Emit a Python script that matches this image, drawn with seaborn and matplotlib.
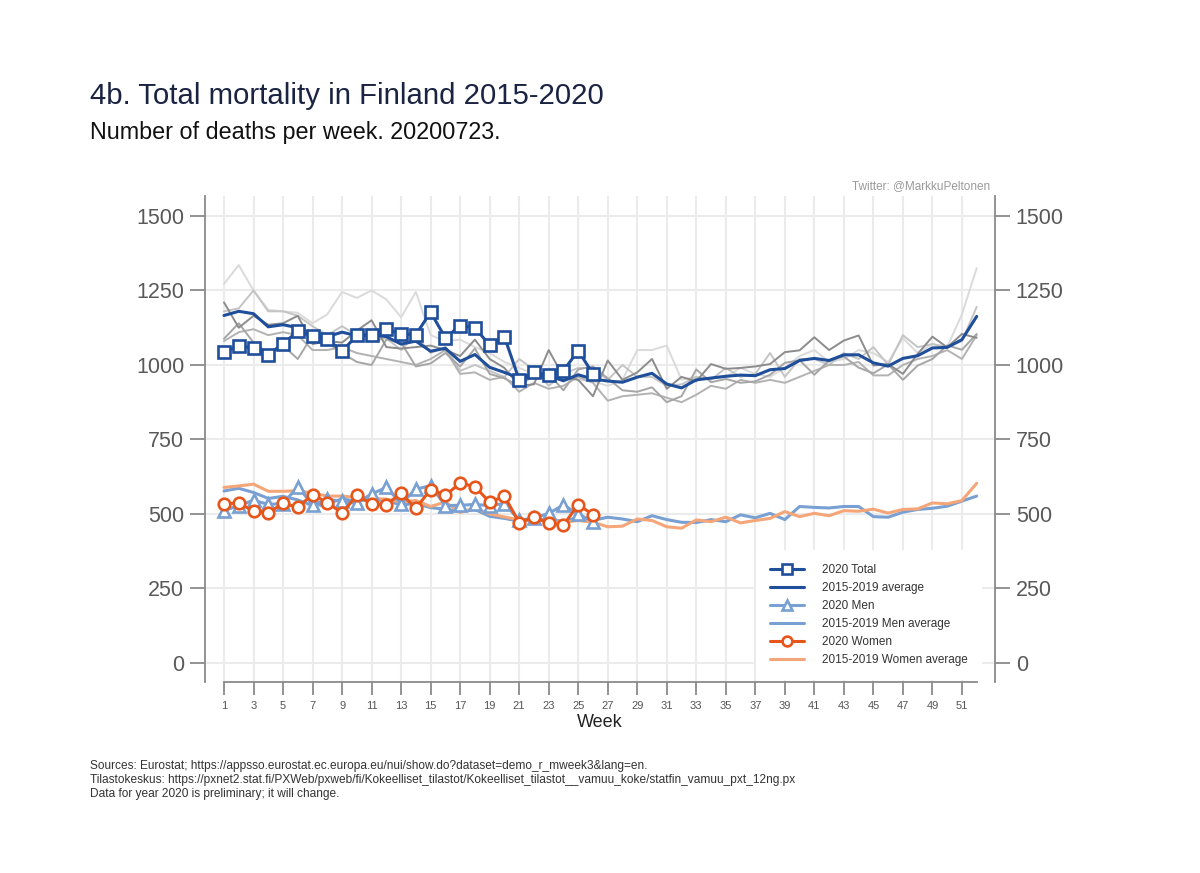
import matplotlib
matplotlib.use("Agg")
import matplotlib.pyplot as plt
import seaborn as sns

weeks = list(range(1, 53))
weeks_2020 = list(range(1, 27))

total_2020 = [1043, 1065, 1056, 1035, 1071, 1113, 1096, 1087, 1046, 1099, 1101, 1120, 1104,
              1102, 1177, 1091, 1132, 1124, 1067, 1095, 950, 975, 966, 981, 1048, 970]
men_2020 = [511, 528, 546, 532, 535, 591, 531, 549, 543, 537, 567, 589, 535,
            583, 595, 528, 529, 532, 528, 535, 479, 486, 502, 530, 500, 474]
women_2020 = [534, 537, 509, 503, 536, 522, 565, 538, 503, 562, 534, 531, 569,
              519, 582, 563, 603, 592, 539, 560, 471, 489, 469, 463, 531, 498]

avg_total = [1166, 1180, 1172, 1128, 1135, 1125, 1098, 1095, 1110, 1098, 1102, 1095, 1070,
             1080, 1046, 1056, 1012, 1035, 992, 975, 956, 959, 964, 947, 967, 953,
             946, 942, 959, 972, 936, 923, 950, 956, 962, 966, 964, 984, 988, 1015,
             1022, 1015, 1034, 1034, 1007, 996, 1022, 1031, 1057, 1059, 1085, 1163]
avg_men = [577, 586, 572, 552, 559, 547, 528, 535, 550, 543, 550, 545, 530, 535, 521, 516,
           507, 515, 492, 485, 476, 481, 482, 475, 489, 478, 489, 483, 474, 494, 481, 472,
           471, 481, 474, 497, 487, 502, 481, 525, 522, 520, 525, 525, 491, 489, 506, 515,
           519, 526, 543, 560]
avg_women = [589, 594, 600, 576, 576, 578, 570, 560, 560, 555, 552, 550, 540, 545, 525, 540,
             505, 520, 500, 490, 480, 478, 482, 472, 478, 472, 457, 459, 483, 478, 457, 452,
             480, 474, 489, 470, 478, 485, 508, 491, 502, 494, 511, 509, 516, 503, 515, 517,
             537, 534, 545, 603]

y2015 = [1272, 1335, 1250, 1185, 1180, 1175, 1140, 1170, 1245, 1225, 1250, 1220, 1160, 1245,
         1100, 1080, 1085, 1060, 1040, 1010, 990, 970, 950, 960, 950, 945, 930, 950, 1050,
         1050, 1065, 950, 960, 955, 960, 990, 970, 960, 990, 1030, 1050, 1010, 1020, 1050,
         1040, 1010, 1090, 1040, 1070, 1060, 1170, 1325]
y2016 = [1180, 1190, 1250, 1180, 1180, 1165, 1130, 1100, 1130, 1100, 1080, 1090, 1050, 1100,
         1040, 1060, 980, 1000, 980, 960, 1020, 985, 930, 970, 990, 990, 950, 1000, 960, 960,
         930, 935, 960, 950, 990, 960, 970, 1040, 960, 1020, 1020, 1000, 1040, 1020, 1060,
         1000, 1100, 1060, 1070, 1060, 1080, 1195]
y2017 = [1080, 1110, 1120, 1100, 1110, 1100, 1050, 1050, 1060, 1040, 1030, 1020, 1010, 1000,
         1020, 1050, 970, 975, 950, 960, 910, 940, 920, 930, 960, 940, 880, 895, 900, 905,
         890, 875, 900, 930, 920, 950, 940, 950, 940, 960, 980, 1000, 1000, 1010, 965, 965,
         1000, 1020, 1030, 1050, 1020, 1100]
y2018 = [1088, 1140, 1075, 1040, 1065, 1020, 1100, 1075, 1040, 1010, 1000, 1085, 1075, 995,
         1005, 1040, 995, 1055, 970, 955, 930, 965, 970, 915, 985, 995, 955, 915, 910, 925,
         875, 895, 985, 942, 953, 940, 945, 967, 1007, 1016, 967, 1015, 1028, 991, 972, 1002,
         950, 998, 1020, 1066, 1051, 1104]
y2019 = [1210, 1125, 1165, 1135, 1140, 1165, 1070, 1080, 1075, 1115, 1150, 1060, 1055, 1060,
         1065, 1050, 1030, 1085, 1020, 990, 930, 935, 1050, 960, 950, 895, 1015, 950, 975,
         1020, 920, 960, 945, 1003, 987, 990, 995, 1003, 1043, 1049, 1093, 1050, 1082, 1099,
         998, 1003, 970, 1037, 1095, 1059, 1104, 1091]

past_years = [y2015, y2016, y2017, y2018, y2019]
grey_shades = ["#dadada", "#c4c4c4", "#b2b2b2", "#a6a6a6", "#8c8c8c"]

x_ticks = list(range(1, 52, 2))
y_ticks = [0, 250, 500, 750, 1000, 1250, 1500]

DARK_BLUE = "#1f4e9a"
LIGHT_BLUE = "#79a0d3"
ORANGE = "#e6561a"
LIGHT_ORANGE = "#f5a678"

sns.set_theme(style="white")
plt.rcParams["font.family"] = ["Liberation Sans", "DejaVu Sans"]

fig = plt.figure(figsize=(12, 8.73), dpi=100)
ax = fig.add_axes([205 / 1200, 1 - 682 / 873, 790 / 1200, 486 / 873])

for ys, c in zip(past_years, grey_shades):
    sns.lineplot(x=weeks, y=ys, ax=ax, color=c, linewidth=1.4, zorder=2)

sns.lineplot(x=weeks, y=avg_men, ax=ax, color=LIGHT_BLUE, linewidth=2.2, zorder=3,
             label="2015-2019 Men average")
sns.lineplot(x=weeks, y=avg_women, ax=ax, color=LIGHT_ORANGE, linewidth=2.2, zorder=3,
             label="2015-2019 Women average")
sns.lineplot(x=weeks_2020, y=men_2020, ax=ax, color=LIGHT_BLUE, linewidth=2.2, zorder=4,
             marker="^", markersize=9, markerfacecolor="white", markeredgecolor=LIGHT_BLUE,
             markeredgewidth=1.9, label="2020 Men")
sns.lineplot(x=weeks_2020, y=women_2020, ax=ax, color=ORANGE, linewidth=2.2, zorder=5,
             marker="o", markersize=8.3, markerfacecolor="white", markeredgecolor=ORANGE,
             markeredgewidth=1.9, label="2020 Women")
sns.lineplot(x=weeks, y=avg_total, ax=ax, color=DARK_BLUE, linewidth=2.2, zorder=6,
             label="2015-2019 average")
sns.lineplot(x=weeks_2020, y=total_2020, ax=ax, color=DARK_BLUE, linewidth=2.2, zorder=7,
             marker="s", markersize=8, markerfacecolor="white", markeredgecolor=DARK_BLUE,
             markeredgewidth=1.9, label="2020 Total")

ax.set_xlim(-0.287, 53.24)
ax.set_ylim(-64, 1567)
ax.set_xticks(x_ticks)
ax.set_xticklabels([str(t) for t in x_ticks])
ax.set_yticks(y_ticks)
ax.set_yticklabels([str(t) for t in y_ticks])

ax.grid(True, color="#ebebeb", linewidth=1.5, zorder=0)
ax.set_axisbelow(True)

ax.spines["top"].set_visible(False)
for s in ["left", "right", "bottom"]:
    ax.spines[s].set_color("#8a8a8a")
    ax.spines[s].set_linewidth(1.3)
ax.spines["bottom"].set_bounds(1, 52)

ax.tick_params(axis="y", which="both", left=True, right=True, labelleft=True, labelright=True,
               length=11, width=1.3, color="#8a8a8a", labelsize=15.5, labelcolor="#595959",
               pad=4, direction="out")
ax.tick_params(axis="x", bottom=True, length=9, width=1.3, color="#8a8a8a", labelsize=8,
               labelcolor="#555555", pad=5, direction="out")

ax.set_xlabel("Week", fontsize=13, color="#222222", labelpad=2)
ax.set_ylabel("")

handles, labels = ax.get_legend_handles_labels()
order = ["2020 Total", "2015-2019 average", "2020 Men", "2015-2019 Men average",
         "2020 Women", "2015-2019 Women average"]
hmap = dict(zip(labels, handles))
leg = ax.legend([hmap[o] for o in order], order, loc="lower right",
                bbox_to_anchor=(0.984, 0.004), borderaxespad=0, frameon=True,
                facecolor="white", edgecolor="none", framealpha=1, fontsize=8.5,
                handlelength=2.8, handletextpad=1.6, labelspacing=0.5,
                borderpad=1.2, numpoints=1, markerscale=0.85)
leg.set_zorder(20)
for t in leg.get_texts():
    t.set_color("#333333")

fig.text(90 / 1200, 1 - 104 / 873, "4b. Total mortality in Finland 2015-2020",
         fontsize=21.2, color="#1a2442", va="baseline", ha="left")
fig.text(90 / 1200, 1 - 139 / 873, "Number of deaths per week. 20200723.",
         fontsize=16.8, color="#111111", va="baseline", ha="left")
fig.text(990 / 1200, 1 - 189 / 873, "Twitter: @MarkkuPeltonen",
         fontsize=8.5, color="#9a9a9a", va="baseline", ha="right")

footer = [
    "Sources: Eurostat; https://appsso.eurostat.ec.europa.eu/nui/show.do?dataset=demo_r_mweek3&lang=en.",
    "Tilastokeskus: https://pxnet2.stat.fi/PXWeb/pxweb/fi/Kokeelliset_tilastot/Kokeelliset_tilastot__vamuu_koke/statfin_vamuu_pxt_12ng.px",
    "Data for year 2020 is preliminary; it will change.",
]
for i, line in enumerate(footer):
    fig.text(90 / 1200, 1 - (769 + 14 * i) / 873, line, fontsize=8.55, color="#333333",
             va="baseline", ha="left")

fig.savefig("out.png", dpi=100, facecolor="white")
